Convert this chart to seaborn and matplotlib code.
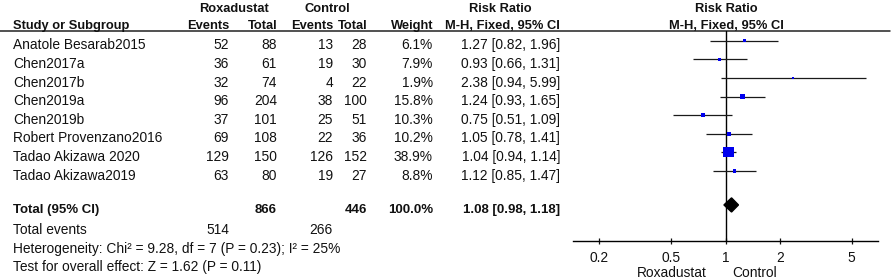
import matplotlib
matplotlib.use("Agg")
import matplotlib.pyplot as plt
import seaborn as sns
import numpy as np
import pandas as pd

# data
studies = ["Anatole Besarab2015", "Chen2017a", "Chen2017b", "Chen2019a", "Chen2019b",
           "Robert Provenzano2016", "Tadao Akizawa 2020", "Tadao Akizawa2019"]
roxa_events = [52, 36, 32, 96, 37, 69, 129, 63]
roxa_total = [88, 61, 74, 204, 101, 108, 150, 80]
ctrl_events = [13, 19, 4, 38, 25, 22, 126, 19]
ctrl_total = [28, 30, 22, 100, 51, 36, 152, 27]
weights = [6.1, 7.9, 1.9, 15.8, 10.3, 10.2, 38.9, 8.8]
rr = [1.27, 0.93, 2.38, 1.24, 0.75, 1.05, 1.04, 1.12]
rr_low = [0.82, 0.66, 0.94, 0.93, 0.51, 0.78, 0.94, 0.85]
rr_high = [1.96, 1.31, 5.99, 1.65, 1.09, 1.41, 1.14, 1.47]
total_counts = {"roxa_total": 866, "ctrl_total": 446, "weight": 100.0,
                "roxa_events": 514, "ctrl_events": 266}
total_rr, total_low, total_high = 1.08, 0.98, 1.18
xticks = [0.2, 0.5, 1, 2, 5]
heterogeneity = "Heterogeneity: Chi\u00b2 = 9.28, df = 7 (P = 0.23); I\u00b2 = 25%"
overall = "Test for overall effect: Z = 1.62 (P = 0.11)"

sns.set_style("white")
plt.rcParams['font.family'] = ['Liberation Sans', 'DejaVu Sans']
fs = 9.9     # regular text
fsb = 9.3    # bold headers
col = '#111111'

df = pd.DataFrame({"study": studies, "rr": rr, "lo": rr_low, "hi": rr_high, "w": weights})
df["row"] = np.arange(len(df))
df["area"] = ((1.6 + 0.22 * df["w"]) / (100 / 72)) ** 2

fig = plt.figure(figsize=(8.92, 2.79), dpi=100)

# text layer in pixel units
ax = fig.add_axes([0, 0, 1, 1])
ax.set_xlim(0, 892)
ax.set_ylim(279, 0)
ax.axis('off')

row0, step = 40.7, 18.6
base = lambda r: row0 + step * r + 8.65

ax.plot([0, 890], [31, 31], color='#222222', lw=1.1)
hb = dict(fontsize=fsb, fontweight='bold', color=col, va='baseline')
ax.text(234.5, 11.7, "Roxadustat", ha='center', **hb)
ax.text(327.5, 11.7, "Control", ha='center', **hb)
ax.text(500, 11.7, "Risk Ratio", ha='center', **hb)
ax.text(726, 11.7, "Risk Ratio", ha='center', **hb)
ax.text(13, 29.3, "Study or Subgroup", ha='left', **hb)
for x, s in [(229, "Events"), (277, "Total"), (333, "Events"), (367, "Total"), (433, "Weight")]:
    ax.text(x, 29.3, s, ha='right', **hb)
ax.text(502, 29.3, "M-H, Fixed, 95% CI", ha='center', **hb)
ax.text(726, 29.3, "M-H, Fixed, 95% CI", ha='center', **hb)

tb = dict(fontsize=fs, color=col, va='baseline')
for i in range(len(studies)):
    y = base(i)
    ax.text(13, y, studies[i], ha='left', **tb)
    ax.text(229, y, str(roxa_events[i]), ha='right', **tb)
    ax.text(277, y, str(roxa_total[i]), ha='right', **tb)
    ax.text(333, y, str(ctrl_events[i]), ha='right', **tb)
    ax.text(367, y, str(ctrl_total[i]), ha='right', **tb)
    ax.text(433, y, f"{weights[i]:.1f}%", ha='right', **tb)
    ax.text(560, y, f"{rr[i]:.2f} [{rr_low[i]:.2f}, {rr_high[i]:.2f}]", ha='right', **tb)

yt = 213.3
hb2 = dict(hb, fontsize=fsb + 0.2)
ax.text(13, yt, "Total (95% CI)", ha='left', **hb2)
ax.text(277, yt, str(total_counts["roxa_total"]), ha='right', **hb2)
ax.text(367, yt, str(total_counts["ctrl_total"]), ha='right', **hb2)
ax.text(433, yt, f"{total_counts['weight']:.1f}%", ha='right', **hb2)
ax.text(560, yt, f"{total_rr:.2f} [{total_low:.2f}, {total_high:.2f}]", ha='right', **hb2)
ax.text(13, 233.8, "Total events", ha='left', **tb)
ax.text(229, 233.8, str(total_counts["roxa_events"]), ha='right', **tb)
ax.text(333, 233.8, str(total_counts["ctrl_events"]), ha='right', **tb)
ax.text(13, 252.6, heterogeneity, ha='left', **tb)
ax.text(13, 271.4, overall, ha='left', **tb)
ax.text(707, 277, "Roxadustat", ha='right', **tb)
ax.text(732, 277, "Control", ha='left', **tb)

# forest panel
fx0, fx1, fy0, fy1 = 573, 878, 31, 241
fa = fig.add_axes([fx0 / 892, 1 - fy1 / 279, (fx1 - fx0) / 892, (fy1 - fy0) / 279])
fa.patch.set_alpha(0)
fa.set_xscale('log')
fa.set_xlim(1 / 7, 7)
fa.set_ylim((fy1 - row0) / step, (fy0 - row0) / step)

fa.axvline(1, color='black', lw=1.0, zorder=1)
fa.hlines(df["row"], df["lo"], df["hi"], color='#1a1a1a', lw=0.9, zorder=2)
sns.scatterplot(data=df, x="rr", y="row", size="area", sizes=(df["area"].min(), df["area"].max()),
                size_norm=(df["area"].min(), df["area"].max()), marker='s', color='#0000ee',
                edgecolor='none', legend=False, ax=fa, zorder=3)
ty = 8.83
h = 0.38
fa.fill([total_low, total_rr, total_high, total_rr], [ty, ty - h, ty, ty + h], color='black', zorder=3)

for s in ['top', 'left', 'right']:
    fa.spines[s].set_visible(False)
fa.spines['bottom'].set_color('black')
fa.spines['bottom'].set_linewidth(1.0)
fa.set_xticks(xticks)
fa.set_xticklabels([str(t) for t in xticks])
fa.minorticks_off()
fa.set_yticks([])
fa.tick_params(axis='x', direction='inout', length=5, width=0.9, pad=5, labelsize=fs,
               colors=col, bottom=True)
fa.set_xlabel("")
fa.set_ylabel("")

fig.savefig("out.png", dpi=100)
